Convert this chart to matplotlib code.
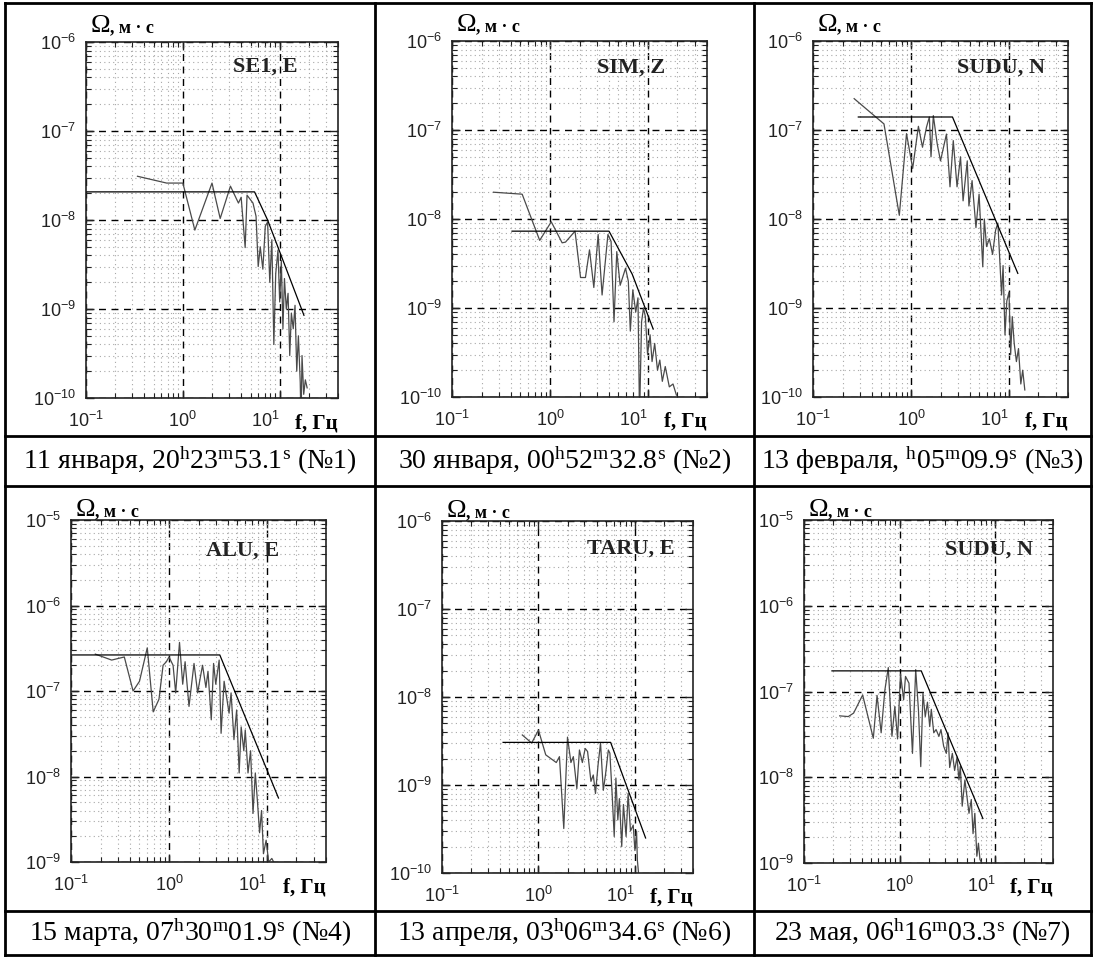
import math
import matplotlib
matplotlib.use('Agg')
import matplotlib.pyplot as plt
from matplotlib.lines import Line2D
from matplotlib.ticker import LogLocator, NullFormatter

plt.rcParams['font.family'] = ['Liberation Sans', 'DejaVu Sans']
SERIF = ['Liberation Serif', 'DejaVu Serif']

# --- data ---
stations = ['SE1, E', 'SIM, Z', 'SUDU, N', 'ALU, E', 'TARU, E', 'SUDU, N']
captions = [
    r'11 января, 20$\mathregular{^{h}}$23$\mathregular{^{m}}$53.1$\mathregular{^{s}}$ (№1)',
    r'30 января, 00$\mathregular{^{h}}$52$\mathregular{^{m}}$32.8$\mathregular{^{s}}$ (№2)',
    r'13 февраля, $\mathregular{^{h}}$05$\mathregular{^{m}}$09.9$\mathregular{^{s}}$ (№3)',
    r'15 марта, 07$\mathregular{^{h}}$30$\mathregular{^{m}}$01.9$\mathregular{^{s}}$ (№4)',
    r'13 апреля, 03$\mathregular{^{h}}$06$\mathregular{^{m}}$34.6$\mathregular{^{s}}$ (№6)',
    r'23 мая, 06$\mathregular{^{h}}$16$\mathregular{^{m}}$03.3$\mathregular{^{s}}$ (№7)',
]
ylims = [(1e-10, 1e-6), (1e-10, 1e-6), (1e-10, 1e-6),
         (1e-9, 1e-5), (1e-10, 1e-6), (1e-9, 1e-5)]
xlim = (0.1, 40)

# spectra (gray)
f1 = [0.34, 0.68, 1.0, 1.33, 2.0, 2.43, 3.1, 3.75, 4.0, 4.4, 4.6, 5.3, 5.7, 6.0, 6.3, 6.7, 7.1, 7.5, 7.9, 8.3,
      8.7, 9.1, 9.6, 10.0, 10.4, 10.8, 11.2, 11.7, 12.2, 12.7, 13.2, 13.8, 14.4, 15.0, 15.6, 16.3, 16.6, 17.0,
      17.7, 18.4, 19.2]
s1 = [3.1e-8, 2.6e-8, 2.6e-8, 7.7e-9, 2.6e-8, 1.04e-8, 2.4e-8, 1.55e-8, 1.8e-8, 4.9e-9, 1.9e-8, 1.55e-8, 1.1e-8,
      3.0e-9, 5.0e-9, 2.8e-9, 8.5e-9, 9.5e-9, 2.0e-9, 6.0e-9, 4e-10, 2.5e-9, 4.6e-9, 1.2e-9, 3.5e-9, 6e-10, 2.2e-9,
      1.0e-9, 1.5e-9, 3e-10, 9e-10, 6e-10, 1.1e-9, 2e-10, 5e-10, 1.5e-10, 5e-11, 3e-10, 1.1e-10, 1.6e-10, 1.3e-10]

f2 = [0.265, 0.52, 0.785, 1.03, 1.33, 1.44, 1.8, 2.05, 2.3, 2.53, 2.8, 3.1, 3.4, 3.9, 4.2, 4.5, 4.8, 5.2, 5.9, 6.3,
      6.6, 7.0, 7.5, 7.9, 8.2, 8.6, 9.0, 9.4, 9.9, 10.5, 11.0, 11.7, 12.5, 13.2, 14.0, 15.0, 16.5, 18.0, 19.5]
s2 = [2.0e-8, 1.9e-8, 5.75e-9, 9.3e-9, 5.4e-9, 5.5e-9, 7.3e-9, 2.2e-9, 2.2e-9, 4.5e-9, 1.7e-9, 6.7e-9, 1.4e-9,
      6.7e-9, 5.6e-9, 7e-10, 4.3e-9, 1.8e-9, 2.8e-9, 2.0e-9, 5.5e-10, 1.6e-9, 9e-10, 1.3e-9, 6e-11, 7e-10, 1.0e-9,
      8e-10, 3e-10, 5e-10, 2.5e-10, 4e-10, 2e-10, 2.6e-10, 1.5e-10, 2.2e-10, 1.3e-10, 1.4e-10, 1.05e-10]

f3 = [0.263, 0.53, 0.76, 0.9, 1.04, 1.19, 1.31, 1.44, 1.54, 1.6, 1.69, 1.85, 2.0, 2.3, 2.5, 2.7, 2.95, 3.2, 3.4,
      3.75, 3.9, 4.2, 4.6, 4.95, 5.4, 5.6, 5.9, 6.3, 6.8, 7.3, 7.7, 8.0, 8.4, 8.7, 9.1, 9.5, 10.0, 10.4, 10.8, 11.3,
      11.9, 12.5, 13.2, 13.8, 14.5]
s3 = [2.25e-7, 1.17e-7, 1.1e-8, 9.1e-8, 3.7e-8, 1.1e-7, 6.4e-8, 1.08e-7, 1.4e-7, 5e-8, 1.45e-7, 7e-8, 4.5e-8,
      9e-8, 2.3e-8, 7.6e-8, 2.3e-8, 5e-8, 1.6e-8, 4.5e-8, 1.4e-8, 2.7e-8, 8e-9, 1.9e-8, 2.9e-9, 1e-8, 4.9e-9,
      6e-9, 4e-9, 7.5e-9, 9e-9, 4e-9, 1.4e-9, 3e-9, 5e-10, 1.2e-9, 1.5e-9, 3e-10, 8e-10, 4e-10, 2.5e-10, 3.5e-10,
      1.4e-10, 2e-10, 1.2e-10]

f4 = [0.177, 0.26, 0.35, 0.43, 0.5, 0.6, 0.69, 0.79, 0.87, 0.94, 1.0, 1.1, 1.17, 1.28, 1.38, 1.46, 1.6, 1.8, 1.96,
      2.1, 2.2, 2.38, 2.5, 2.7, 2.85, 3.0, 3.25, 3.4, 3.65, 3.9, 4.1, 4.3, 4.6, 4.9, 5.2, 5.45, 5.8, 6.0, 6.4, 6.8,
      7.2, 7.6, 8.0, 8.4, 8.8, 9.2, 9.8, 10.4, 11.2, 11.7]
s4 = [2.7e-7, 2.3e-7, 2.5e-7, 1e-7, 1.3e-7, 3.2e-7, 5.7e-8, 8e-8, 2e-7, 2.2e-7, 2.5e-7, 2e-7, 9.5e-8, 3.7e-7,
      1.2e-7, 2.2e-7, 6.6e-8, 2.1e-7, 9.5e-8, 1.5e-7, 2e-7, 1.1e-7, 1.7e-7, 4.6e-8, 2.1e-7, 1.2e-7, 2.3e-7, 3.2e-8,
      1.3e-7, 8e-8, 5.5e-8, 9.5e-8, 2.7e-8, 6e-8, 1.1e-8, 3.8e-8, 2e-8, 3.5e-8, 1.1e-8, 2e-8, 3.7e-9, 1.1e-8, 5e-9,
      2.2e-9, 4e-9, 1.25e-9, 1.8e-9, 1.0e-9, 1.1e-9, 1.0e-9]

f5 = [0.68, 0.85, 1.0, 1.19, 1.53, 1.65, 1.83, 2.0, 2.17, 2.3, 2.5, 2.66, 2.85, 3.05, 3.23, 3.5, 3.7, 3.9, 4.15,
      4.4, 4.7, 4.95, 5.3, 5.5, 5.8, 6.1, 6.35, 6.65, 6.9, 7.3, 7.6, 8.1, 8.5, 9.0, 9.6, 10.0, 10.4, 10.6, 10.9, 11.0]
s5 = [3.7e-9, 3e-9, 4.2e-9, 2.2e-9, 1.8e-9, 2.1e-9, 3.2e-10, 3.5e-9, 1.8e-9, 2.1e-9, 9.1e-10, 2.5e-9, 1.8e-9,
      2.6e-9, 2.4e-9, 1.1e-9, 1.3e-9, 8e-10, 1.7e-9, 3e-9, 8.7e-10, 1.3e-9, 2.5e-9, 2.3e-9, 8e-10, 2.6e-10, 1.2e-9,
      4e-10, 7e-10, 2e-10, 6e-10, 2.6e-10, 8e-10, 3e-10, 3.5e-10, 1.8e-10, 3e-10, 1.4e-10, 1e-10, 5e-11]

f6 = [0.236, 0.29, 0.33, 0.41, 0.53, 0.58, 0.64, 0.7, 0.76, 0.83, 0.89, 0.95, 1.02, 1.1, 1.15, 1.25, 1.36, 1.47,
      1.57, 1.66, 1.75, 1.85, 1.95, 2.06, 2.14, 2.27, 2.4, 2.57, 2.7, 2.88, 3.07, 3.2, 3.33, 3.55, 3.75, 3.97, 4.16,
      4.3, 4.5, 4.8, 5.05, 5.3, 5.6, 5.84, 6.1, 6.4, 6.65, 6.9, 7.2]
s6 = [5.2e-8, 5.1e-8, 5.6e-8, 9.1e-8, 2.85e-8, 9e-8, 3.3e-8, 1.04e-7, 1.9e-7, 3e-8, 6.7e-8, 2.8e-8, 1.6e-7, 8e-8,
      1.5e-7, 1.25e-7, 1.9e-8, 1.8e-7, 6.1e-8, 1.33e-8, 9.6e-8, 5.1e-8, 7.5e-8, 3.9e-8, 6.2e-8, 3.3e-8, 3.6e-8,
      3e-8, 3.6e-8, 2.3e-8, 1.9e-8, 3.3e-8, 1.3e-8, 1.9e-8, 1.2e-8, 1.7e-8, 9.3e-9, 1.35e-8, 4.6e-9, 9.3e-9,
      5.9e-9, 3.8e-9, 5.5e-9, 2.2e-9, 3.8e-9, 1.2e-9, 1.7e-9, 1.1e-9, 1.0e-9]

# source-model approximations (black)
m1f = [0.1, 5.5, 7.5, 17.8]
m1v = [2.07e-8, 2.07e-8, 1.0e-8, 8.5e-10]
m2f = [0.41, 4.0, 6.9, 11.3]
m2v = [7.3e-9, 7.3e-9, 2.4e-9, 5.8e-10]
m3f = [0.29, 2.65, 12.3]
m3v = [1.4e-7, 1.4e-7, 2.45e-9]
m4f = [0.1, 3.3, 13.1]
m4v = [2.64e-7, 2.64e-7, 5.6e-9]
m5f = [0.43, 5.6, 12.9]
m5v = [3.05e-9, 3.05e-9, 2.5e-10]
m6f = [0.196, 1.68, 7.4]
m6v = [1.74e-7, 1.74e-7, 3.3e-9]

spectra = [(f1, s1), (f2, s2), (f3, s3), (f4, s4), (f5, s5), (f6, s6)]
models = [(m1f, m1v), (m2f, m2v), (m3f, m3v), (m4f, m4v), (m5f, m5v), (m6f, m6v)]

# --- layout (pixels) ---
W, H = 1096, 957
boxes = [(86, 42, 338, 398), (452, 41, 707, 397), (813, 41, 1068, 397),
         (71, 520, 326, 862), (442, 521, 693, 873), (804, 520, 1053, 863)]
label_x = [0.84, 0.835, 0.91, 0.816, 0.928, 0.92]
label_y = [0.93, 0.925, 0.925, 0.91, 0.923, 0.913]
omega_dy = [7, 7, 7, 3, 3, 3]
col_x = [5, 375, 754, 1091]
row_y = [3, 436, 486, 911, 955]

fig = plt.figure(figsize=(W / 100, H / 100), dpi=100)


def sup10(e):
    return r'$\mathregular{10^{%d}}$' % e


for i in range(6):
    l, t, r, b = boxes[i]
    ax = fig.add_axes([l / W, 1 - b / H, (r - l) / W, (b - t) / H])
    ax.set_xscale('log')
    ax.set_yscale('log')
    ax.set_xlim(*xlim)
    ax.set_ylim(*ylims[i])

    ax.plot(spectra[i][0], spectra[i][1], color='#4a4a4a', lw=0.9)
    ax.plot(models[i][0], models[i][1], color='black', lw=0.9)

    ax.xaxis.set_minor_locator(LogLocator(base=10, subs=range(2, 10), numticks=20))
    ax.yaxis.set_minor_locator(LogLocator(base=10, subs=range(2, 10), numticks=20))
    ax.xaxis.set_minor_formatter(NullFormatter())
    ax.yaxis.set_minor_formatter(NullFormatter())
    ax.set_xticks([0.1, 1, 10], [sup10(-1), sup10(0), sup10(1)])
    lo, hi = ylims[i]
    e0, e1 = int(round(math.log10(lo))), int(round(math.log10(hi)))
    ax.set_yticks([10.0 ** e for e in range(e0, e1 + 1)], [sup10(e) for e in range(e0, e1 + 1)])
    ax.get_xticklabels()[-1].set_ha('right')

    ax.grid(True, which='major', ls=(0, (5, 4)), color='black', lw=1.0)
    ax.grid(True, which='minor', ls=(0, (1, 3)), color='#a8a8a8', lw=0.8)
    ax.set_axisbelow(True)
    ax.tick_params(which='both', direction='in', top=True, right=True, colors='#222222',
                   labelcolor='#222222', labelsize=13)
    ax.tick_params(which='major', length=6, width=1.0)
    ax.tick_params(which='minor', length=3.5, width=0.8)
    ax.tick_params(axis='x', pad=9)
    ax.tick_params(axis='y', pad=7)
    for sp in ax.spines.values():
        sp.set_linewidth(1.2)
        sp.set_color('#222222')

    ax.text(label_x[i], label_y[i], stations[i], transform=ax.transAxes, ha='right', va='center',
            family=SERIF, fontweight='bold', fontsize=16, color='#222222')
    ax.annotate('Ω', xy=(0, 1), xycoords='axes fraction', xytext=(3, omega_dy[i]),
                textcoords='offset points', ha='left', va='baseline', family=SERIF, fontsize=19)
    ax.annotate(', м · с', xy=(0, 1), xycoords='axes fraction', xytext=(17, omega_dy[i]),
                textcoords='offset points', ha='left', va='baseline', family=SERIF,
                fontweight='bold', fontsize=13)
    ax.annotate('f, Гц', xy=(1, 0), xycoords='axes fraction', xytext=(0, -18),
                textcoords='offset points', ha='right', va='center', family=SERIF,
                fontweight='bold', fontsize=15)

# table frame
for x in col_x:
    fig.add_artist(Line2D([x / W, x / W], [1 - row_y[0] / H, 1 - row_y[-1] / H],
                          transform=fig.transFigure, color='black', lw=2.0))
for y in row_y:
    fig.add_artist(Line2D([col_x[0] / W, col_x[-1] / W], [1 - y / H, 1 - y / H],
                          transform=fig.transFigure, color='black', lw=2.0))

# captions
for i in range(6):
    c = i % 3
    rr = i // 3
    cx = (col_x[c] + col_x[c + 1]) / 2
    cy = (row_y[2 * rr + 1] + row_y[2 * rr + 2]) / 2
    fig.text(cx / W, 1 - cy / H, captions[i], ha='center', va='center', family=SERIF, fontsize=20)

fig.savefig('out.png', dpi=100)
